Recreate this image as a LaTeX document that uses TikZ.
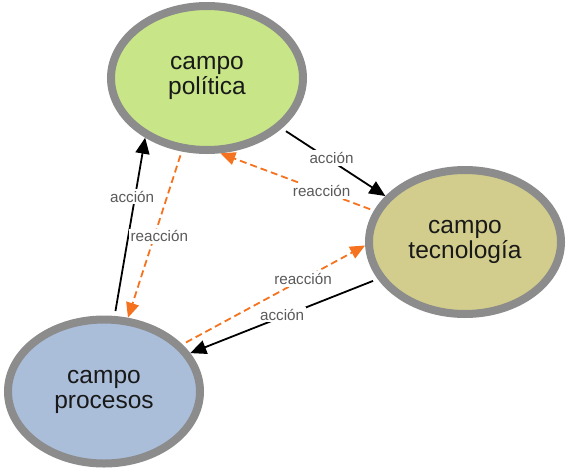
\documentclass[tikz,border=0pt]{standalone}
\usepackage{fontspec}
\setmainfont{Liberation Sans}
\usetikzlibrary{shapes.geometric,arrows.meta}
\definecolor{rimgray}{RGB}{140,140,140}
\definecolor{polfill}{RGB}{200,230,135}
\definecolor{tecfill}{RGB}{210,205,140}
\definecolor{procfill}{RGB}{170,190,218}
\definecolor{reacorange}{RGB}{245,115,30}
\definecolor{labelgray}{RGB}{90,90,90}
\begin{document}
\begin{tikzpicture}[x=1pt,y=-1pt,
  field/.style={ellipse, draw=rimgray, line width=8pt, minimum width=192pt,
    minimum height=144pt, inner sep=0pt, align=center,
    font=\fontsize{24.5}{25}\selectfont, text=black!90},
  action/.style={draw=black, line width=1.8pt,
    -{Triangle[length=16pt,width=14pt]}, shorten <=5pt},
  reaction/.style={draw=reacorange, line width=1.8pt,
    dash pattern=on 7pt off 4pt,
    -{Triangle[length=15pt,width=13pt]}, shorten <=4pt},
  tag/.style={fill=white, inner sep=2pt, text=labelgray,
    font=\fontsize{15.2}{17}\selectfont}
]
\useasboundingbox (0,0) rectangle (567,469);

% the three fields
\node[field, fill=polfill]  (pol)  at (207,78)    {campo\\política};
\node[field, fill=tecfill]  (tec)  at (465,242)   {campo\\tecnología};
\node[field, fill=procfill] (proc) at (104,391.5) {campo\\procesos};

% política <-> tecnología
\draw[action]   (pol.-34)  -- node[tag, pos=0.48, yshift=3pt] {acción}   (tec.150);
\draw[reaction] (tec.161)  -- node[tag, pos=0.34]             {reacción} (pol.-80);

% procesos <-> política
\draw[action]   (proc.82)  -- node[tag, pos=0.67, xshift=-3pt] {acción}   (pol.224);
\draw[reaction] (pol.251)  -- node[tag, pos=0.51, xshift=5pt]  {reacción} (proc.72);

% procesos <-> tecnología
\draw[reaction] (proc.31)  -- node[tag, pos=0.66]             {reacción} (tec.182);
\draw[action]   (tec.203)  -- node[tag, pos=0.51, yshift=2pt] {acción}   (proc.24);
\end{tikzpicture}
\end{document}
